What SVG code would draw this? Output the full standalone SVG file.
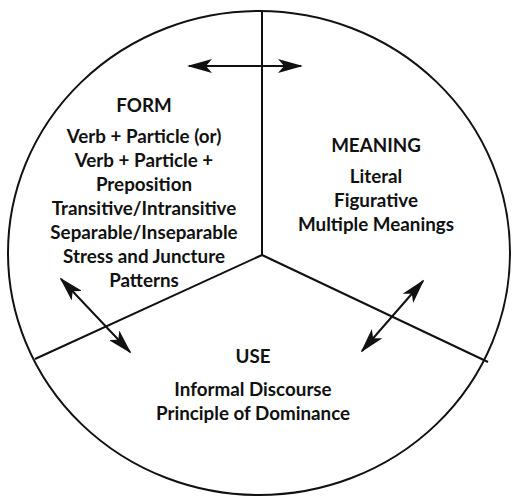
<svg xmlns="http://www.w3.org/2000/svg" width="512" height="496" viewBox="0 0 512 496">
<defs>
<style>
.l{fill:none;stroke:#111;stroke-width:2}
.t{font-family:Lato,"Liberation Sans",sans-serif;font-weight:bold;font-size:18.8px;fill:#111;text-anchor:middle}
</style>
<marker id="ah" viewBox="0 0 25 14" refX="23" refY="7" markerWidth="25" markerHeight="14" markerUnits="userSpaceOnUse" orient="auto-start-reverse">
<path d="M0,0 L25,7 L0,14 L6,7 Z" fill="#111"/>
</marker>
</defs>
<rect width="512" height="496" fill="#fff"/>
<g id="frame">
<ellipse cx="259" cy="253" rx="251" ry="242" class="l"/>
</g>
<g id="connectors">
<line x1="262" y1="12" x2="262" y2="255" class="l"/>
<line x1="262" y1="255" x2="35" y2="359" class="l"/>
<line x1="262" y1="255" x2="488" y2="362" class="l"/>
<line x1="189" y1="66" x2="301" y2="66" class="l" marker-start="url(#ah)" marker-end="url(#ah)"/>
<line x1="61" y1="279" x2="130" y2="352" class="l" marker-start="url(#ah)" marker-end="url(#ah)"/>
<line x1="423" y1="281" x2="362" y2="351" class="l" marker-start="url(#ah)" marker-end="url(#ah)"/>
</g>
<g id="form">
<text class="t" x="144" y="112">FORM</text>
<text class="t" x="144" y="143">Verb + Particle (or)</text>
<text class="t" x="144" y="167">Verb + Particle +</text>
<text class="t" x="144" y="191">Preposition</text>
<text class="t" x="144" y="215">Transitive/Intransitive</text>
<text class="t" x="144" y="239">Separable/Inseparable</text>
<text class="t" x="144" y="263">Stress and Juncture</text>
<text class="t" x="144" y="287">Patterns</text>
</g>
<g id="meaning">
<text class="t" x="376" y="152">MEANING</text>
<text class="t" x="376" y="183">Literal</text>
<text class="t" x="376" y="207">Figurative</text>
<text class="t" x="376" y="231">Multiple Meanings</text>
</g>
<g id="use">
<text class="t" x="253" y="363">USE</text>
<text class="t" x="253" y="396">Informal Discourse</text>
<text class="t" x="253" y="420">Principle of Dominance</text>
</g>
</svg>
